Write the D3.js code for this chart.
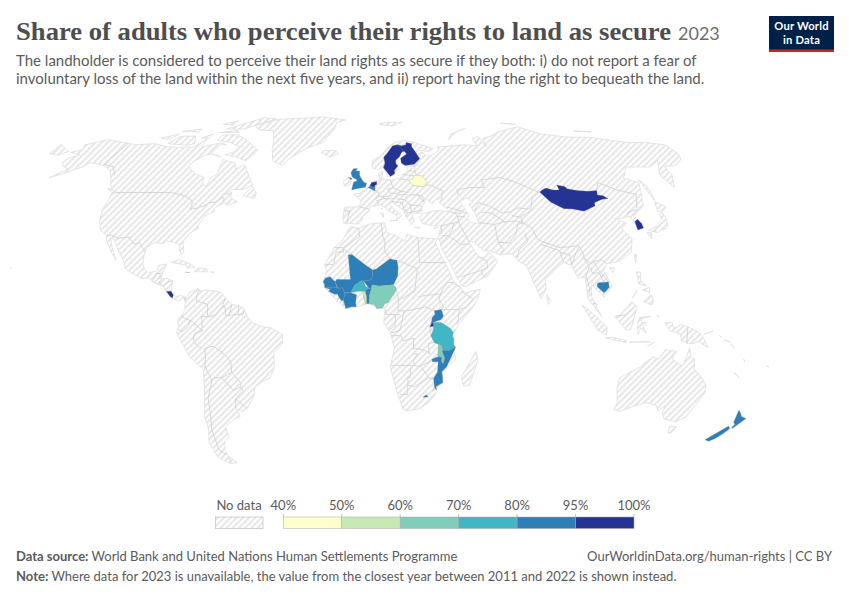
<!DOCTYPE html>
<html>
<head>
<meta charset="utf-8">
<script src="https://cdn.jsdelivr.net/npm/d3@7"></script>
<style>
  html, body { margin: 0; padding: 0; background: #fff; }
  svg { display: block; }
  text { font-family: Lato, sans-serif; }
</style>
</head>
<body>
<div id="chart"></div>
<script>
// Robinson table, lat -> x factor / y factor
const robLat = [0, 5, 10, 15, 20, 25, 30, 35, 40, 45, 50, 55, 60, 65, 70, 75, 80, 85, 90];
const robX = [1, .9986, .9954, .99, .9822, .973, .96, .9427, .9216, .8962, .8679, .835, .7986, .7597, .7186, .6732, .6213, .5722, .5322];
const robY = [0, .062, .124, .186, .248, .31, .372, .434, .4958, .5571, .6176, .6769, .7346, .7903, .8435, .8936, .9394, .9761, 1];

// Legend
const legendTicks = ['40%', '50%', '60%', '70%', '80%', '95%', '100%'];
const legendBreaks = [50, 60, 70, 80, 95];
const legendColors = ['#ffffcc', '#c7e9b4', '#7fcdbb', '#41b6c4', '#2c7fb8', '#253494'];

// Land with no data (lon, lat)
const northAmerica = [[-156.5,71.3],[-166,68.8],[-163,67],[-168,65.6],[-161,64.5],[-165,63],[-165,61],[-162,59.5],[-158,58.5],[-163,55],[-158,56.5],[-154,58.5],[-151,59.5],[-150,61],[-146,60.8],[-140,59.7],[-135,58],[-131,55],[-128,52],[-124.5,49],[-124,46],[-124.3,42],[-122.5,37.5],[-120.5,34.5],[-117,32.5],[-115.8,30],[-114,28],[-112,25.5],[-109.8,23],[-110.5,24.5],[-112.5,27.5],[-114.7,31.5],[-113,31],[-110.5,27.8],[-108,25],[-105.5,21.5],[-105.3,20],[-102,18],[-97,15.8],[-94,16.2],[-92,14.5],[-88,13.2],[-87.5,13],[-85.8,11],[-85,10],[-83,8.3],[-81,7.5],[-80,7.3],[-78.5,8.5],[-77.4,8],[-77.4,8.7],[-79.5,9.5],[-81.5,8.8],[-83,10],[-83.7,11],[-83.4,15],[-86,15.9],[-88.5,15.8],[-88.2,18],[-87.5,19.5],[-87,21.5],[-90.3,21],[-90.7,19],[-92,18.6],[-94.5,18.2],[-96,19],[-97.5,21.5],[-97.5,25],[-97,28],[-94,29.6],[-90,29.2],[-89,30.3],[-85,29.7],[-83,29],[-82,26.5],[-81,25.2],[-80.1,26],[-81.3,30],[-79,33.3],[-76,35],[-76,37],[-74,40],[-70.5,41.7],[-71,43],[-67,45],[-65,44],[-61,45.5],[-65,47],[-65,49],[-69,48],[-65,50.2],[-60,50.2],[-56,52],[-59,55],[-62,58],[-64.5,60.3],[-68,58.5],[-70,61],[-78,62.5],[-77.5,60],[-76.5,56.5],[-79,55],[-79,51.5],[-82,52.5],[-82.5,55],[-88,56.5],[-93,58.8],[-94.5,60],[-93,62],[-90,64],[-87,65],[-85,69],[-81.5,69],[-85,69.8],[-90,69],[-95,68],[-96,71.5],[-100,68],[-108,67.8],[-115,68],[-125,69.5],[-135,69],[-141,69.6],[-150,70.4]];
const greenland = [[-73,78.2],[-68,76],[-58,75.5],[-54,70],[-53,67],[-50,62],[-44,60],[-41,63],[-33,67.5],[-24,70],[-22,73],[-19,76],[-18,80],[-12,81.5],[-30,83.5],[-45,82.5],[-60,82],[-65,81]];
const southAmerica = [[-77.4,8],[-75.5,10.7],[-72,12],[-71.5,11],[-68,11.5],[-62,10.7],[-60,8.5],[-57,6],[-52,4.7],[-50,1],[-48,-1],[-44,-2.5],[-40,-3],[-35,-5.5],[-35,-9],[-39,-13],[-39,-18],[-41,-22],[-45,-23.7],[-48.5,-26],[-49,-29],[-53,-33.8],[-55,-35],[-58,-34.3],[-57,-37],[-62,-39],[-65,-41],[-65,-45],[-67.5,-46.5],[-69,-50],[-68.5,-52.5],[-65.5,-55],[-69,-55.5],[-74,-53],[-75.5,-47],[-73.5,-42],[-73.5,-37],[-71.5,-30],[-70.3,-19],[-76,-14],[-80.5,-6],[-81,-4.5],[-80,-2.5],[-80.5,0],[-78.8,1.5],[-77.3,4],[-77.5,7]];
const africa = [[-5.9,35.8],[-2,35.2],[3,36.8],[10,37.3],[11,33.5],[15,32.3],[19,30.3],[20,32.8],[25,31.6],[32,31.2],[34.2,31.3],[32.6,29.9],[35,24],[37.3,20],[39.5,15],[43.2,12],[44.5,10.5],[51.2,11.8],[50,8],[47,4],[42,-1],[39.5,-5],[39.5,-10],[40.6,-15],[35,-20],[35.5,-24],[33,-26],[32.5,-28.5],[30,-31.5],[26,-34],[20,-34.8],[18.3,-34],[15,-27],[12,-18],[13.7,-11],[12,-5],[9,-1],[9.6,4],[5,5.5],[2,6.3],[-3,5],[-7.5,4.4],[-13,9],[-16.8,12.5],[-17.3,14.7],[-16,19],[-17,21],[-13,27.7],[-9.7,30],[-9,33]];
const eurasia = [[-9,37],[-9.5,38.8],[-8.8,43.3],[-1.7,43.4],[-1,46],[-4.7,48.4],[-1.5,48.7],[1.7,50.9],[4,52],[5,53.3],[8.5,54],[8.2,57],[10.5,57.6],[10,54.5],[14,54],[19,54.5],[21,56.5],[24,57.5],[23.5,59.3],[30,60],[23,60],[21.2,61],[21.5,63],[25.5,65],[22,65.6],[17.5,62],[17.5,60],[18.8,59.5],[16.5,56.5],[14.2,55.5],[12.8,55.5],[11.5,58.5],[10.5,59.3],[8,58],[5,59],[5,62],[10,64],[14,67.5],[19,70],[25,71],[31,70],[41,67.2],[38,66],[33,66.5],[35,64.5],[38,64],[40.5,65],[44,66.5],[44,68],[54,68.5],[60,69],[68,68.5],[67,71.5],[72,73],[73,68],[74,72],[80,73],[87,75],[104,77.7],[113,74],[128,72.5],[140,72.5],[160,70],[170,70],[180,69],[180,65],[177,62.5],[170,60],[163,59.5],[162,56],[156.7,51],[155.5,56],[163,62],[155,59.3],[142,59.3],[135,54.7],[141,53],[135,44],[127.5,39.8],[129.3,36],[126.5,34.5],[126.5,37.5],[125,39.7],[121.5,39],[118,39],[122.5,37],[119,35],[122,31],[120,26],[114,22.5],[108,21.5],[106,19],[109,13],[105,8.8],[100,13.5],[99.5,9],[103.5,1.3],[100.5,5],[98,8],[97.5,16.5],[94.5,16],[92,21],[89,22],[87,21],[80,15.5],[80,12],[77.5,8],[73,19],[72,21],[69,22.5],[66.5,25.4],[61,25],[57,26.5],[54,26.5],[50,30],[48,30],[50,26.5],[52,24],[54,24],[56.3,26],[59.8,22.5],[55,17],[45,12.8],[43,13],[39,21],[35,28],[34.9,29.5],[34.2,31.3],[36,36],[32,36.1],[27.5,37],[26.5,39.5],[29,41],[35,42],[41.5,41.5],[37,45],[39,47],[35,46],[33.5,44.5],[31,46.5],[28,43],[28,41],[24,40.8],[23,40],[24,38],[22.5,36.5],[19.5,41],[19.5,42],[14,45.3],[12.5,44.5],[16,41.7],[18.4,40],[16.5,39],[15.7,38],[16,40],[12,42],[8.7,44.3],[3.5,43.3],[3,41.8],[0,39.5],[-0.5,38],[-2,36.8],[-5.3,36.1]];
const chukotkaEast = [[-180,69],[-175,67.5],[-170,66],[-173,64.3],[-179,65],[-180,65]];
const australia = [[114,-22],[113.5,-26],[115.7,-32],[115,-34.3],[118,-35],[124,-33],[129,-31.7],[134,-32.8],[135.5,-34.8],[138,-33],[138,-35.6],[140.5,-38],[144,-38.5],[146.4,-39],[150,-37.3],[151.3,-33.5],[153.5,-28],[153,-25],[149,-21],[146,-19],[145.3,-15],[143.5,-14],[142.5,-10.8],[141.5,-14],[140.8,-17.5],[139,-17],[135.5,-15],[136.8,-12],[132,-11.3],[129.5,-15],[127,-14],[122,-18],[119,-20]];
const islands = [
  [[49.3,-12],[50.4,-15.5],[47.5,-24.8],[45,-25.5],[43.5,-22],[44.3,-16.5]], // madagascar
  [[-61,66.5],[-65,62],[-72,63.7],[-78,64.5],[-74,66],[-73,68],[-80,70],[-89,71],[-89,73.5],[-80,73.7],[-72,71.5],[-67,69]],
  [[-117,69.5],[-105,68.7],[-101,69.5],[-105,73],[-114,73],[-118,71.5]],
  [[-125,72],[-119,71.5],[-117,74],[-124,74]],
  [[-90,76.5],[-78,76.5],[-72,79],[-62,82],[-72,83],[-90,82]],
  [[-92,74.7],[-80,74.7],[-81,75.8],[-92,76.5]],
  [[-96,79],[-88,78.5],[-88,81],[-95,81]],
  [[-117,75.2],[-106,75],[-106,76.5],[-117,76.5]],
  [[-100,72],[-95,72],[-95,74],[-100,73.5]],
  [[-87,65],[-80,63.7],[-84,62.5]],
  [[-59,47.7],[-53,46.7],[-53,49],[-56,51.5],[-58,49.5]],
  [[-128.5,50.7],[-125,50],[-123.3,48.4],[-126,49]],
  [[-85,22],[-82,23.2],[-77,21.8],[-74.2,20.2],[-77.7,19.9],[-78,21],[-82,22]], // cuba
  [[-74.4,18.5],[-73,19.9],[-69,19.7],[-68.4,18.5],[-71.5,17.8]],
  [[-67.2,18.5],[-65.7,18.4],[-66,18],[-67.2,18]],
  [[-156,20.2],[-155,19.7],[-155.8,19]], // hawaii
  [[-24,65.5],[-22,66.4],[-16,66.5],[-14,65],[-18.5,63.4],[-22.5,64]], // iceland
  [[-6.2,53.4],[-6.3,52.2],[-9.5,51.5],[-10,53.5],[-8.5,54.4],[-8,55.2],[-7.3,55],[-7.5,54.2],[-6.3,54.1]], // ireland
  [[12.5,38],[15.6,38.2],[15,36.7]], [[8.2,41],[9.7,41],[9.5,39.2],[8.5,39]], [[8.6,42.5],[9.5,43],[9.3,41.5]],
  [[23.6,35.5],[26.3,35.2],[24.7,35]], [[32.4,35],[34.5,35.6],[33.7,34.8]],
  [[11,79],[16,80],[27,80],[20,78],[16,76.8]], [[52,71],[56,74],[68,77],[60,75],[56,71]],
  [[95,79.5],[105,79],[100,81]], [[137,75.5],[147,75],[141,74]],
  [[142,54.3],[143.3,52],[143,49],[142,46],[142,50]], // sakhalin
  [[140,41.5],[141.5,45.5],[145.3,43.5],[143,42],[141,42.5]],
  [[131,34.3],[135,35.6],[137,37],[139.5,38.5],[140,40.5],[141.4,41.3],[142,39.5],[140.9,36],[139.5,35],[136.5,34.5],[135,33.5],[132.5,34]],
  [[130,33.5],[132,33.5],[131,31],[130,31.5]], [[132.5,34],[134.5,34],[133.5,33]],
  [[121,25],[122,25],[120.8,22],[120,23]], [[109,20],[111,20],[110,18.2],[108.7,18.6]],
  [[80,9.7],[81.8,7.5],[80.5,6],[79.8,8]],
  [[120.5,18.5],[122.2,18.3],[121.7,15],[124,13],[120.7,13.8],[120,16]],
  [[122,7],[125.5,9.7],[126.5,7.5],[125.5,5.7],[124,7]], [[122,11.5],[125,12.5],[125,10.5],[123,9.5]],
  [[117.3,8.4],[119.5,11.3],[119.5,10.2]],
  [[95.3,5.6],[98,4],[103.8,-1],[106,-3],[105.8,-5.8],[102,-4],[98.5,1.5]],
  [[105.3,-6.8],[108.5,-6.6],[114.5,-7.8],[114.5,-8.7],[108,-7.8]],
  [[109,1.5],[111,1.7],[113,3.3],[117,7],[119,5],[117.7,1],[116.3,-3.5],[114.5,-4],[110,-2.5]],
  [[119.5,-5.5],[119,-2],[120,1],[125,1.5],[121,0.4],[121,-1],[123,-1],[121.5,-2.5],[123,-5],[120.5,-3],[120.5,-5.5]],
  [[127.5,2],[128.5,1],[128,-0.7]], [[124,-10],[127,-8.4],[125,-9.5]], [[116,-8.5],[120,-8.3],[125,-8.4],[119,-9]],
  [[131,-1],[134,-0.8],[135,-3.3],[138,-1.7],[141,-2.6],[145,-4.3],[147.5,-6],[150.5,-10.5],[146,-8.3],[143,-9.2],[138.5,-8],[138,-5.5],[133,-4],[132,-2.8]], // new guinea
  [[148,-5.5],[152,-4.2],[150,-6.2]], [[155,-6],[156,-6.8],[155.8,-7]], [[157,-7.5],[160,-8.5],[159,-8.7]], [[160,-9.2],[162,-10.5],[161,-10.2]],
  [[166.8,-15],[167.5,-16],[167.2,-15.5]], [[164,-20.2],[167,-22.3],[166,-22]], [[177.3,-17.5],[178.7,-18],[178,-18.3]],
  [[144.7,-40.8],[148.3,-40.9],[148,-43],[146.5,-43.6],[145.3,-42.5]] // tasmania
];
const caspianSea = [[47,45.5],[51,47],[53,45],[51,44.5],[53,41],[54,37],[50,37.3],[49,39],[50,40.3],[47.5,43]];

// Borders between countries with no data
const borderLines = [
  [[-141,69.6],[-141,60.3],[-135,59.5],[-130,55.9]],
  [[-123,49],[-95,49],[-89,48],[-84.5,46.5],[-82.5,45],[-82.5,42.5],[-79,43],[-76,44],[-74.7,45],[-71,45.3],[-69,47.3],[-67.5,45.5]],
  [[-117,32.5],[-114.8,32.5],[-111,31.3],[-106.5,31.8],[-103,29],[-101,29.7],[-97.2,25.9]],
  [[-92.2,14.6],[-91,17.8],[-89.2,17.8],[-88.3,18.5]], [[-89.2,17.8],[-89.2,15.9]], [[-88.3,15.7],[-89.4,14.4],[-90,13.7]],
  [[-87.3,13],[-85,14.7],[-83.2,15]], [[-89.4,14.4],[-87.8,13.3]], [[-77.4,8.7],[-77.4,7.2]],
  [[-71.5,11.8],[-72.5,9],[-72.5,7.3],[-67.5,6],[-67.5,2],[-67,1.2]], [[-67,1.2],[-70,1.5],[-69.8,-4.2]], [[-69.8,-4.2],[-74,-0.5],[-75.3,-0.1]],
  [[-75.3,-0.1],[-78.8,1.4]], [[-75.3,-0.1],[-75.5,-2],[-78.5,-4.5],[-80.3,-3.4]], [[-69.8,-4.2],[-73,-5],[-74,-7.5],[-72.5,-9.5],[-70.5,-11]],
  [[-69,-11],[-69,-15],[-69.5,-17.5]], [[-69.5,-17.5],[-70.3,-18.4]], [[-69.5,-11],[-65.3,-10],[-60,-13.5],[-58,-16.3],[-58,-20]],
  [[-58,-20],[-62.6,-22.2]], [[-62.6,-22.2],[-66,-22],[-67,-23]], [[-69.5,-17.5],[-68.5,-20],[-67,-23]],
  [[-67,-23],[-70,-30],[-70.5,-36],[-72,-42],[-72,-50],[-69,-52]], [[-68.6,-52.6],[-68.6,-55]],
  [[-58,-20],[-56,-22.3],[-54.5,-24],[-54.6,-25.6]], [[-62.6,-22.2],[-58,-27],[-54.6,-25.6]], [[-54.6,-25.6],[-53.7,-27],[-57.6,-30.2]],
  [[-57.6,-30.2],[-53.3,-33.7]], [[-57.6,-30.2],[-58.3,-34]], [[-60,8.5],[-61,5.2]], [[-67,1.2],[-64,2],[-61,5.2],[-60,5.2],[-59.5,1.5],[-57,1.9],[-52,2.2],[-51.6,4]],
  [[-57,6],[-58,2]], [[-54,5.8],[-54.2,2.3]],
  [[-1.7,43.4],[3,42.5]], [[-8.8,42],[-6.3,41.7],[-7,39.5],[-7.4,37.2]], [[6,49.5],[8,49],[7.5,47.6]], [[7.5,47.6],[6,46.3],[7,45.8],[7.5,44]],
  [[7,45.8],[10.4,46.6],[9.5,47.5],[7.5,47.6]], [[14.2,54],[15,51]], [[15,51],[12.2,50.2],[13.8,48.7]], [[13.8,48.7],[13,47.5],[9.5,47.5]],
  [[7,52.2],[7,53.4]], [[6,50.8],[6,49.6]], [[8.6,54.9],[9.8,54.8]], [[15,51],[19,49.5],[22.5,49]], [[13.8,48.7],[17,48.7]], [[17,48.7],[19,49.5]],
  [[10.4,46.6],[13.7,46.5]], [[17,48],[16,46.8],[13.7,46.5]], [[17,48],[22,48.3]], [[22,48],[20.3,46.2]], [[20.3,46.2],[16.5,46.5]],
  [[22.8,48],[26.5,48.2],[29.5,45.4]], [[20.3,46.2],[22.6,44.2]], [[22.6,44.2],[28.5,43.7]], [[28,42],[26.3,41.8],[23,41.4]], [[22.6,44.2],[23,41.4]],
  [[20,39.7],[21,41],[23,41.4]], [[19.5,42],[20.5,42.3],[21,41]], [[14,45.5],[19,45],[19.5,42]], [[24,50.5],[22.5,49]], [[21,56.3],[26.6,55.7]],
  [[24.3,57.9],[27.5,57.5]], [[28,59.5],[27.5,57.5],[28,56]], [[19,54.4],[23.5,54]], [[26.6,48.3],[29.2,47.5],[29.5,45.5]], [[31.7,52],[34,52],[40,49.6],[38.3,47.1]],
  [[31.5,62.8],[30,65.5],[28.5,68],[29,69.5],[31,70]], [[12,63.5],[12.5,61],[11.2,59]],
  [[36,36],[42,37.2]], [[42,37.2],[44.5,37.5],[44.5,39.7]], [[41.5,41.5],[43.5,41],[44.5,39.7]], [[40,43.4],[46.5,41.8],[49,41]], [[44.5,39.7],[48,39.5]], [[43.5,41],[46.5,41]],
  [[44.5,37.5],[46,34],[48,30]], [[42,37.2],[41,34.5],[39,32.3]], [[36,32.3],[39,32.3],[37,31],[35,29.5]], [[39,32.3],[44,29],[48,29]],
  [[43,16.5],[52,19],[55,20],[55,22.5],[52,24]], [[53,16.7],[52,19]], [[35.6,33],[36,33.5],[36,36]],
  [[61,25],[63,27],[61,29.8],[61,35],[61,36.6]], [[54,37.3],[61,36.6]], [[61,29.8],[66,29.5],[70,33],[71.5,36.5],[74.5,37.2]], [[61,36.6],[65,37.5],[71,38],[74.5,37.2]],
  [[47,48],[47,50],[54,51],[61,51],[61,54],[71,55],[77,53.5],[83,51],[87.3,49.1]], [[87.3,49.1],[83,47],[80,42.5]], [[53,42],[56,45],[60,44],[66,41],[70,41.5],[74,43],[80,42.5]],
  [[70,40],[74,39.5],[80,42]], [[56,41.3],[61,41],[66,37.4]], [[74.5,37.2],[74,39.5]],
  [[120,53],[127,50],[135,48.3],[131,43]], [[116.7,49.8],[120,53]], [[130.7,42.3],[126,41.5],[124.3,40]],
  [[74.5,37.2],[78,35],[79,31],[81,30],[88,27.8],[92,28],[97,28.5],[98.5,25],[98,24],[101,21.3],[102.2,22.4],[106,23],[108,21.6]],
  [[80,29],[88,26.5]], [[74,33],[74.5,30],[70,27],[68.5,23.7]], [[88,26],[89,22]], [[92.5,21],[92,25],[88,26]], [[92.5,21],[94,24],[97,28]],
  [[98,24],[100,20.5],[98,17],[99,12],[98.5,10]], [[100.5,20],[101,18],[104,18],[105.5,14.4]], [[102.2,22.4],[104,19],[107.5,14.7]], [[100,6.5],[102,6]],
  [[141,-2.6],[141,-9.1]], [[110,1.5],[114,2],[117,4.2]],
  [[-2,35.2],[-1.5,32],[-8.7,27.7]], [[-8.7,27.7],[-13,27.7]], [[-8.7,27.3],[-8.7,26],[-12,26],[-13,21.3],[-17,21.3]], [[-8.7,27.3],[-4.8,25]],
  [[-12.2,14.7],[-14.5,16.6]], [[8.5,37],[9,32],[10,30],[9.5,26.5],[12,23.5]], [[25,31.6],[25,22]], [[15,23],[24,19.5]], [[24,20],[25,20]], [[25,22],[37,22]],
  [[24,19.5],[22.5,11]], [[15.5,7.5],[22.5,11]], [[14,13],[15,10],[15.5,7.5]], [[24,9],[33,10],[34,9.5]], [[15,3.5],[19,3.5],[27,5]], [[27,5],[31,3.7]],
  [[34,4],[35,5],[33,8],[34,10.5]], [[34,10.5],[36.5,14.3]], [[36.5,14.3],[39,14.5],[42.5,12.5]], [[42.8,11],[48,8],[45,5],[41.9,4]], [[34,4],[41.9,4]], [[41.9,4],[41,-1.5]],
  [[9.8,2.2],[16,2]], [[14,2],[14,-2],[11,-4]], [[12,-5],[16,-4],[17.5,2],[18.5,3.5]], [[15,3.5],[15.5,7.5]], [[12.2,-6],[16.5,-6],[17.5,-8],[22,-7],[22,-11],[24,-11]],
  [[24,-11],[28,-12],[29,-13],[28.5,-9],[31,-8.6]], [[29.6,-1.4],[29,-2.7],[29.5,-6]], [[29.5,-4.4],[30.7,-3.4]], [[12,-17.3],[23,-17.5],[25,-17.8]], [[22,-13],[24,-13],[22,-16],[23,-17.5]],
  [[25,-17.8],[30,-15.6]], [[25.5,-18],[29.3,-22.2]], [[21,-18],[21,-22],[20,-22],[20,-28.5]], [[16.5,-28.6],[20,-28.5]], [[20,-25],[23,-25.5],[29.3,-22.2]], [[29.3,-22.2],[31.3,-22.4]],
  [[-11.5,6.9],[-10.3,8.5]], [[-8.5,5.5],[-8.5,7.6]], [[10.2,2.2],[9.8,4]], [[32,-26],[31,-27.3],[32,-27]], [[30.2,-15],[33.2,-14]], [[29,-16],[30.2,-15]]
];

// Countries with data (rings in lon, lat)
const sweden = [[[11,59],[12,61],[11.6,63.5],[13.5,65],[15,66.3],[17.5,68.5],[20.5,69],[23.7,67.8],[24,66],[22.5,65.9],[20.5,63.6],[18.2,62.2],[18,60.7],[19,59.8],[16.8,58],[16.7,56.5],[14.3,55.4],[12.8,55.4]]];
const finland = [[[20.5,69],[23,68.5],[25.5,69],[26,70],[29,69.5],[28.8,68],[30.3,65.5],[31.7,62.8],[28,60.5],[22.8,59.9],[21,61],[21,63],[24.8,64.9],[24,66],[23.7,67.8]]];
const unitedKingdom = [[[-5.7,50],[-3,50.5],[1.2,51.1],[1.9,52.7],[0.4,53.1],[-1.2,55],[-1.8,56],[-1.8,57.7],[-3.8,57.7],[-2.9,58.7],[-5.2,58.6],[-6.4,57],[-5.7,55.3],[-4.8,54.8],[-3.3,54.2],[-3.2,53.5],[-4.7,53.3],[-5.2,52],[-3.2,51.4]], [[-7.5,55.1],[-5.6,54.7],[-6.2,54],[-7.7,54.2]]];
const netherlands = [[[3.4,51.4],[4.3,53],[7,53.4],[7,52.2],[6,51.8],[6,50.8],[5,51.4]]];
const belgium = [[[2.5,51],[3.4,51.4],[5,51.4],[6,50.8],[6,49.6],[4.2,50]]];
const belarus = [[[23.5,53.9],[25.5,54.3],[26.6,55.7],[28.2,56],[30.9,55.6],[32.7,53.4],[31.7,52.1],[30.6,51.3],[25,51.9],[23.6,51.6]]];
const mongolia = [[[87.8,49.2],[90,50.2],[92,50.8],[95,50],[98,50],[98.3,52],[102,51.4],[102.3,50.5],[107,49.8],[112,49.5],[116.7,49.8],[115.6,48],[118,47.8],[119.9,46.7],[116.5,46.3],[112,45],[111.5,43.7],[105,41.7],[100,42.6],[96,42.7],[91,45.2],[90.7,47.5]]];
const southKorea = [[[126.2,34.5],[126.6,37.7],[128.4,38.6],[129.4,37],[129.2,35.2],[127.5,34.6]]];
const cambodia = [[[102.4,12.7],[102.5,14],[103.5,14.4],[105.5,14.4],[107.5,14.7],[107.6,12.5],[105.9,11],[105,10.4],[103.5,10.6]]];
const costaRica = [[[-85.8,11],[-83.7,11],[-82.6,9.6],[-83,8.3],[-84,9],[-85.8,10]]];
const jamaica = [[[-78.3,18.3],[-76.3,18.2],[-77,17.8]]];
const newZealand = [[[172.7,-34.5],[174.2,-35.6],[175.7,-37],[178.4,-37.7],[177,-39.5],[175.3,-41.6],[174.7,-41.3],[175,-40],[173.8,-39.3],[174.7,-37.5]], [[172.7,-40.6],[174.2,-41.7],[172.8,-43.6],[171,-45.5],[169,-46.6],[166.5,-46],[170,-43.2]]];
const mali = [[[-12.2,14.7],[-11.5,15.6],[-9.3,15.5],[-5.5,15.5],[-6.6,25],[-4.8,25],[1.2,21],[3.3,19.8],[4.2,19.2],[4.2,16.8],[3.5,15.4],[0.3,14.9],[-0.8,15],[-2,14.3],[-3.5,13.5],[-4.5,12],[-5.4,10.4],[-6.2,10.6],[-7.9,10.3],[-8.3,11],[-9,12.3],[-11,12.2],[-11.4,12.5]]];
const niger = [[[0.3,14.9],[3.5,15.4],[4.2,16.8],[4.2,19.2],[5.8,19.5],[12,23.5],[14,23],[15,23],[15.5,20.5],[15.3,17],[13.5,13.7],[13,13.5],[10,13.3],[7,13],[4,13.5],[3.6,11.7],[2.5,12.3],[1,13]]];
const burkinaFaso = [[[-5.4,10.4],[-4.5,12],[-3.5,13.5],[-2,14.3],[-0.8,15],[0.3,14.9],[1,13],[2.4,12.2],[0.9,11],[-2.8,11],[-2.8,9.7]]];
const benin = [[[0.9,11],[2.4,12.2],[3.6,11.7],[2.8,9.5],[2.7,6.3],[1.6,6.2],[1.6,9]]];
const togo = [[[-0.1,11],[0.9,11],[1.6,9],[1.6,6.2],[1.2,6.1],[0.5,7.5],[0.5,9]]];
const nigeria = [[[2.7,6.3],[2.8,9.5],[3.6,11.7],[4,13.5],[7,13],[10,13.3],[13,13.5],[14.2,12.5],[14.5,11.5],[13.5,10],[12.3,8.4],[11,6.7],[9.5,6.2],[8.5,4.7],[6,4.3],[5,5.8],[4.2,6.4]]];
const ivoryCoast = [[[-8.5,7.6],[-8,10.2],[-6.2,10.6],[-5.4,10.4],[-2.8,9.7],[-3.2,6.5],[-2.9,5.1],[-5,5.1],[-7.5,4.4],[-8.5,5.5]]];
const senegal = [[[-17.5,14.7],[-16.5,16.1],[-14.5,16.6],[-12.2,14.7],[-11.4,12.5],[-13.7,12.6],[-16.7,12.4],[-16.8,13.6],[-15,13.5]]];
const guinea = [[[-15,11],[-13.7,12.6],[-11.4,12.5],[-11,12.2],[-9,12.3],[-8.3,11],[-7.9,10.3],[-8.5,7.6],[-9.4,7.4],[-10.3,8.5],[-11.2,10],[-12.5,9.9],[-13.3,9.2]]];
const guineaBissau = [[[-16.7,12.4],[-13.7,12.6],[-13.7,11.7],[-15,11]]];
const uganda = [[[30.5,-1],[29.6,-1.4],[30,1],[31.3,2.2],[30.9,3.5],[34,4],[34.9,1.5],[33.9,0.2],[33.9,-1]]];
const rwanda = [[[29,-2.7],[29.6,-1.4],[30.5,-1],[30.9,-2.3],[30.5,-2.4],[29.9,-2.8]]];
const tanzania = [[[30.5,-1],[33.9,-1],[37.7,-3.1],[39.2,-4.7],[38.9,-6.5],[39.5,-7],[39.5,-9.5],[40.4,-10.4],[37.5,-11.7],[34.9,-11.6],[34.3,-9.7],[32.9,-9.4],[31,-8.6],[29.5,-6],[30.7,-3.4],[30.9,-2.3]]];
const malawi = [[[32.9,-9.4],[34.3,-9.7],[34.9,-11.6],[34.6,-12],[35.8,-14.6],[35.3,-17],[34.3,-15.8],[34.5,-14.5],[33.2,-14],[32.7,-13.6],[33.7,-11.5]]];
const mozambique = [[[40.4,-10.4],[37.5,-11.7],[34.9,-11.6],[34.6,-12],[35.8,-14.6],[35.3,-17],[34.3,-15.8],[34.5,-14.5],[33.2,-14],[30.2,-15],[30.4,-16],[33,-16],[32.9,-20],[31.3,-22.4],[32,-26],[32.9,-26.8],[32.6,-25.5],[35.5,-24],[35.3,-22],[34.8,-19.8],[36.8,-18],[40.6,-15]]];
const lesotho = [[[27,-29.6],[28.5,-28.6],[29.4,-29.5],[28,-30.6]]];

const countryNames = ['Sweden', 'Finland', 'United Kingdom', 'Netherlands', 'Belgium', 'Belarus', 'Mongolia', 'South Korea', 'Cambodia', 'Costa Rica', 'Jamaica', 'New Zealand', 'Mali', 'Niger', 'Burkina Faso', 'Benin', 'Togo', 'Nigeria', "Cote d'Ivoire", 'Senegal', 'Guinea', 'Guinea-Bissau', 'Uganda', 'Rwanda', 'Tanzania', 'Malawi', 'Mozambique', 'Lesotho'];
const countryValues = [96, 96, 88, 96, 90, 47, 96, 96, 88, 96, 75, 88, 85, 85, 75, 80, 55, 65, 85, 85, 85, 85, 85, 96, 75, 65, 85, 85];
const countryRings = [sweden, finland, unitedKingdom, netherlands, belgium, belarus, mongolia, southKorea, cambodia, costaRica, jamaica, newZealand, mali, niger, burkinaFaso, benin, togo, nigeria, ivoryCoast, senegal, guinea, guineaBissau, uganda, rwanda, tanzania, malawi, mozambique, lesotho];

const width = 850;
const height = 600;
const noDataLand = [northAmerica, greenland, southAmerica, africa, eurasia, chukotkaEast, australia].concat(islands);

const svg = d3.select('#chart').append('svg')
    .attr('width', width)
    .attr('height', height);

// Hatch used for no data, on the map and in the legend
const pattern = svg.append('defs').append('pattern')
    .attr('id', 'no-data')
    .attr('patternUnits', 'userSpaceOnUse')
    .attr('width', 4.4)
    .attr('height', 4.4)
    .attr('patternTransform', 'rotate(-45)');
pattern.append('rect').attr('width', 4.4).attr('height', 4.4).attr('fill', '#fff');
pattern.append('rect').attr('width', 4.4).attr('height', 2).attr('fill', '#e6e6e6');

// Robinson projection, planar so ring winding does not matter
const xFactor = d3.scaleLinear().domain(robLat).range(robX);
const yFactor = d3.scaleLinear().domain(robLat).range(robY);
const halfWidth = 415;
const halfHeight = 210.5;
const centerX = 363;
const centerY = 320;

const path = d3.geoPath(d3.geoTransform({
    point(lon, lat) {
        const a = Math.abs(lat);
        this.stream.point(
            centerX + halfWidth * xFactor(a) * lon / 180,
            centerY - Math.sign(lat) * halfHeight * yFactor(a)
        );
    }
}));

const colorScale = d3.scaleThreshold().domain(legendBreaks).range(legendColors);

const map = svg.append('g');

map.selectAll('path.land')
    .data(noDataLand)
    .join('path')
    .attr('class', 'land')
    .attr('d', d => path({ type: 'Polygon', coordinates: [d] }))
    .attr('fill', 'url(#no-data)')
    .attr('stroke', '#dedede')
    .attr('stroke-width', 0.8);

map.append('path')
    .attr('d', path({ type: 'Polygon', coordinates: [caspianSea] }))
    .attr('fill', '#fff')
    .attr('stroke', '#dedede')
    .attr('stroke-width', 0.8);

map.append('path')
    .attr('d', path({ type: 'MultiLineString', coordinates: borderLines }))
    .attr('fill', 'none')
    .attr('stroke', '#cfcfcf')
    .attr('stroke-width', 0.8);

map.selectAll('path.country')
    .data(countryNames)
    .join('path')
    .attr('class', 'country')
    .attr('d', (d, i) => path({ type: 'MultiPolygon', coordinates: countryRings[i].map(r => [r]) }))
    .attr('fill', (d, i) => colorScale(countryValues[i]))
    .attr('stroke', '#8a8a8a')
    .attr('stroke-width', 0.3);

// Legend
const legendX = d3.scalePoint().domain(legendTicks).range([283.3, 634]);
const legendTop = 517;
const legendHeight = 11.5;
const legend = svg.append('g');

legend.selectAll('rect.bin')
    .data(legendColors)
    .join('rect')
    .attr('class', 'bin')
    .attr('x', (d, i) => legendX(legendTicks[i]))
    .attr('y', legendTop)
    .attr('width', (d, i) => legendX(legendTicks[i + 1]) - legendX(legendTicks[i]))
    .attr('height', legendHeight)
    .attr('fill', d => d)
    .attr('stroke', '#aaa')
    .attr('stroke-width', 0.5);

legend.selectAll('line.tick')
    .data(legendTicks)
    .join('line')
    .attr('class', 'tick')
    .attr('x1', d => legendX(d))
    .attr('x2', d => legendX(d))
    .attr('y1', legendTop - 3)
    .attr('y2', legendTop)
    .attr('stroke', '#999')
    .attr('stroke-width', 0.6);

legend.selectAll('text.tick-label')
    .data(legendTicks)
    .join('text')
    .attr('class', 'tick-label')
    .attr('x', d => legendX(d))
    .attr('y', 510)
    .attr('text-anchor', 'middle')
    .attr('font-size', 13)
    .attr('fill', '#5b5b5b')
    .text(d => d);

legend.append('rect')
    .attr('x', 215.5)
    .attr('y', legendTop)
    .attr('width', 47.5)
    .attr('height', legendHeight)
    .attr('fill', 'url(#no-data)')
    .attr('stroke', '#aaa')
    .attr('stroke-width', 0.5);

legend.append('text')
    .attr('x', 239)
    .attr('y', 510)
    .attr('text-anchor', 'middle')
    .attr('font-size', 13)
    .attr('fill', '#5b5b5b')
    .text('No data');

// Header
svg.append('text')
    .attr('x', 16)
    .attr('y', 40)
    .attr('font-size', 26)
    .attr('font-weight', 700)
    .attr('fill', '#4e4e4e')
    .style('font-family', '"Liberation Serif", serif')
    .attr('textLength', 655)
    .attr('lengthAdjust', 'spacingAndGlyphs')
    .text('Share of adults who perceive their rights to land as secure');

svg.append('text')
    .attr('x', 678)
    .attr('y', 40)
    .attr('font-size', 18)
    .attr('fill', '#6e6e6e')
    .text('2023');

const subtitleLines = [
    'The landholder is considered to perceive their land rights as secure if they both: i) do not report a fear of',
    'involuntary loss of the land within the next five years, and ii) report having the right to bequeath the land.'
];

svg.selectAll('text.subtitle')
    .data(subtitleLines)
    .join('text')
    .attr('class', 'subtitle')
    .attr('x', 16)
    .attr('y', (d, i) => 66 + i * 18)
    .attr('font-size', 15)
    .attr('fill', '#5b5b5b')
    .text(d => d);

// Logo
const logo = svg.append('g');
logo.append('rect').attr('x', 769).attr('y', 16).attr('width', 65).attr('height', 36).attr('fill', '#002147');
logo.append('rect').attr('x', 769).attr('y', 49.5).attr('width', 65).attr('height', 2.5).attr('fill', '#ce261e');
logo.selectAll('text')
    .data(['Our World', 'in Data'])
    .join('text')
    .attr('x', 801.5)
    .attr('y', (d, i) => 30 + i * 13.5)
    .attr('text-anchor', 'middle')
    .attr('font-size', 11.2)
    .attr('letter-spacing', 0.2)
    .attr('font-weight', 700)
    .attr('fill', '#fff')
    .text(d => d);

// Footer
const source = svg.append('text').attr('x', 16).attr('y', 561).attr('font-size', 13).attr('fill', '#5b5b5b');
source.append('tspan').attr('font-weight', 700).text('Data source:');
source.append('tspan').text(' World Bank and United Nations Human Settlements Programme');

svg.append('text')
    .attr('x', 832)
    .attr('y', 561)
    .attr('text-anchor', 'end')
    .attr('font-size', 13)
    .attr('fill', '#5b5b5b')
    .text('OurWorldinData.org/human-rights | CC BY');

const note = svg.append('text').attr('x', 16).attr('y', 581).attr('font-size', 13).attr('fill', '#5b5b5b');
note.append('tspan').attr('font-weight', 700).text('Note:');
note.append('tspan').text(' Where data for 2023 is unavailable, the value from the closest year between 2011 and 2022 is shown instead.');
</script>
</body>
</html>
